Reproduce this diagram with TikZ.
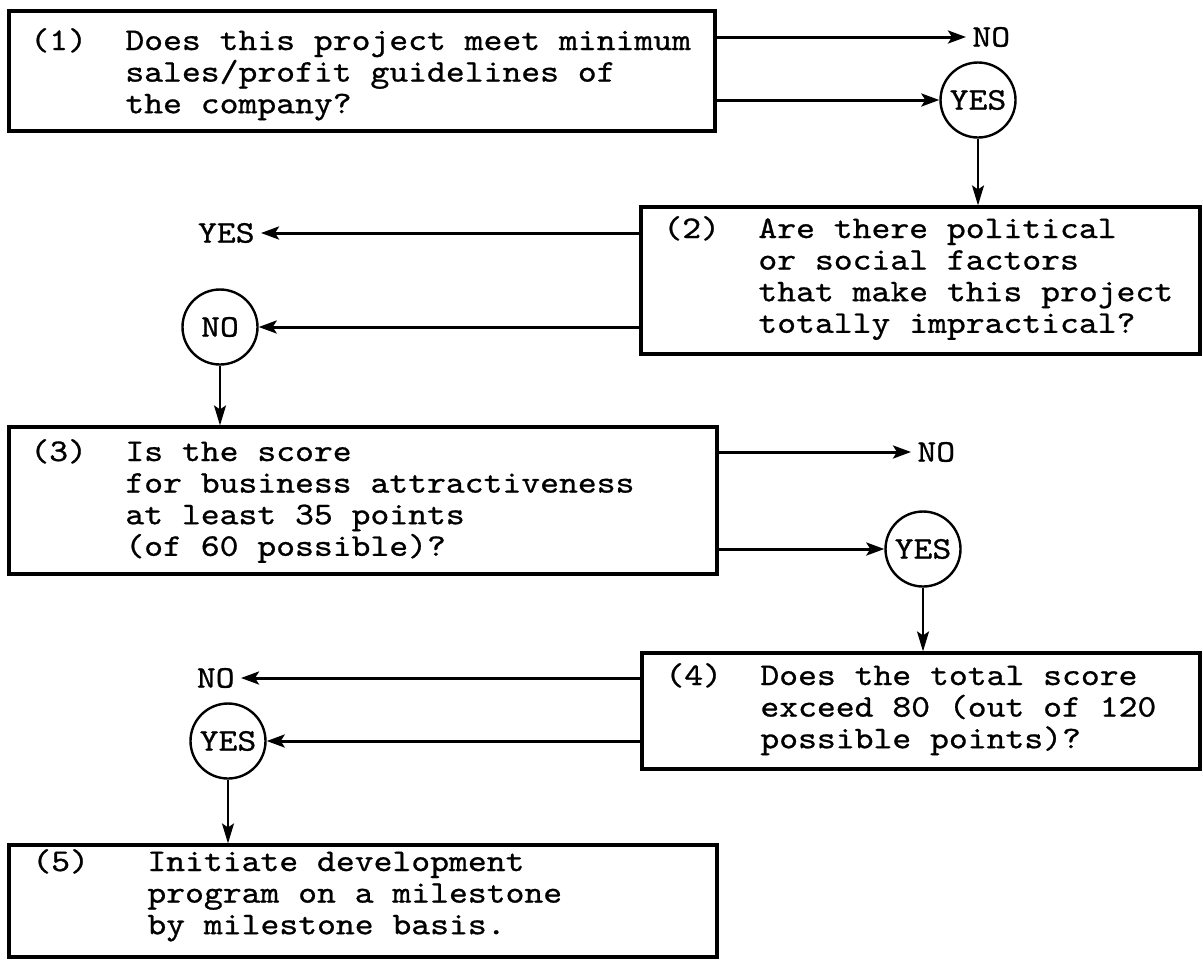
\documentclass[tikz,border=0pt]{standalone}
\usepackage{fontspec}
\newfontfamily\tw{lmmono10-regular.otf}[FakeStretch=1.14,FakeBold=0.8]
\usetikzlibrary{arrows.meta}
\begin{document}
\begin{tikzpicture}[x=0.5pt,y=-0.5pt,
  every node/.style={font=\tw\fontsize{15.75}{15.8}\selectfont},
  qbox/.style={draw,line width=1.6pt,rectangle,inner sep=0pt},
  ans/.style={draw,circle,line width=1.2pt,minimum size=37.5pt,inner sep=0pt},
  lbl/.style={inner xsep=3pt,inner ysep=0pt},
  txt/.style={inner sep=0pt,anchor=base west},
  harr/.style={line width=1.5pt,-{Stealth[length=9pt,width=6.5pt,inset=2pt]}},
  varr/.style={line width=1pt,-{Stealth[length=10pt,width=6pt,inset=2pt]}}]
\useasboundingbox (0,0) rectangle (1203,960);
% boxes
\node[qbox,minimum width=353pt,minimum height=60pt] (b1) at (362,71) {};
\node[qbox,minimum width=279.5pt,minimum height=73.5pt] (b2) at (920.5,280.5) {};
\node[qbox,minimum width=354pt,minimum height=73.5pt] (b3) at (363,500.5) {};
\node[qbox,minimum width=279pt,minimum height=58pt] (b4) at (921,711) {};
\node[qbox,minimum width=354pt,minimum height=56pt] (b5) at (363,901) {};
% texts
\node[txt] (n1) at (30,50) {(1)};
\node[txt] (t1) at (125,50) {\begin{tabular}[t]{@{}l@{}}Does this project meet minimum\\sales/profit guidelines of\\the company?\end{tabular}};
\node[txt] (n2t) at (663,238) {(2)};
\node[txt] (t2) at (758,238) {\begin{tabular}[t]{@{}l@{}}Are there political\\or social factors\\that make this project\\totally impractical?\end{tabular}};
\node[txt] (n3) at (30,461) {(3)};
\node[txt] (t3) at (125,461) {\begin{tabular}[t]{@{}l@{}}Is the score\\for business attractiveness\\at least 35 points\\(of 60 possible)?\end{tabular}};
\node[txt] (n4) at (665,685) {(4)};
\node[txt] (t4) at (760,685) {\begin{tabular}[t]{@{}l@{}}Does the total score\\exceed 80 (out of 120\\possible points)?\end{tabular}};
\node[txt] (n5) at (32,871) {(5)};
\node[txt] (t5) at (147,871) {\begin{tabular}[t]{@{}l@{}}Initiate development\\program on a milestone\\by milestone basis.\end{tabular}};
% answers
\node[ans] (y1) at (978,100) {YES};
\node[ans] (c2) at (220,327) {NO};
\node[ans] (y3) at (923,549) {YES};
\node[ans] (y4) at (228,741) {YES};
\node[lbl,anchor=west] (noA) at (966,37) {NO};
\node[lbl,anchor=east] (yesB) at (261,233) {YES};
\node[lbl,anchor=west] (noC) at (911,452) {NO};
\node[lbl,anchor=east] (noD) at (241,678) {NO};
% connectors
\draw[harr] (b1.east |- noA.west) -- (noA.west);
\draw[harr] (b1.east |- y1.west) -- (y1.west);
\draw[varr] (y1.south) -- (y1.south |- b2.north);
\draw[harr] (b2.west |- yesB.east) -- (yesB.east);
\draw[harr] (b2.west |- c2.east) -- (c2.east);
\draw[varr] (c2.south) -- (c2.south |- b3.north);
\draw[harr] (b3.east |- noC.west) -- (noC.west);
\draw[harr] (b3.east |- y3.west) -- (y3.west);
\draw[varr] (y3.south) -- (y3.south |- b4.north);
\draw[harr] (b4.west |- noD.east) -- (noD.east);
\draw[harr] (b4.west |- y4.east) -- (y4.east);
\draw[varr] (y4.south) -- (y4.south |- b5.north);
\end{tikzpicture}
\end{document}
